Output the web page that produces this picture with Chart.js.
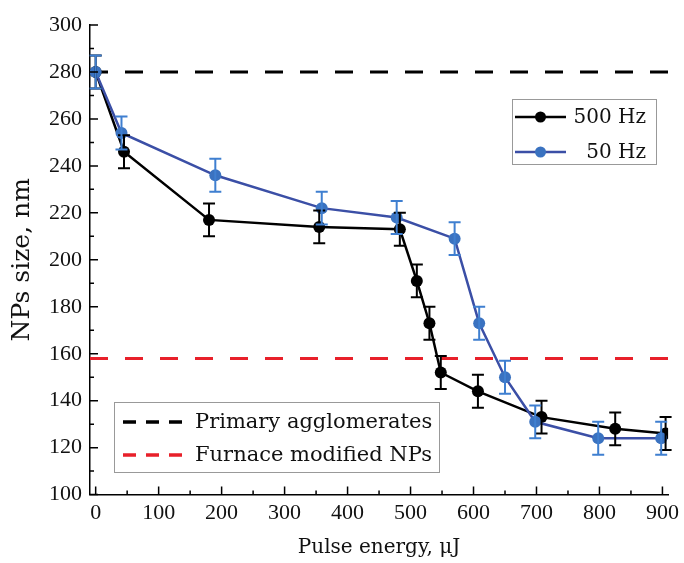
<!DOCTYPE html>
<html lang="en">
<head>
<meta charset="UTF-8">
<title>NPs size vs pulse energy</title>
<script src="https://cdn.jsdelivr.net/npm/chart.js"></script>
<style>
    body { margin: 0; background: #fff; }
    #box { width: 684px; height: 563px; }
</style>
</head>
<body>
<div id="box"><canvas id="grafico"></canvas></div>

<script>
    // data
    var energy500 = [0, 45, 180, 355, 483, 510, 530, 548, 607, 708, 825, 905];
    var size500 = [280, 246, 217, 214, 213, 191, 173, 152, 144, 133, 128, 126];
    var err500 = [7, 7, 7, 7, 7, 7, 7, 7, 7, 7, 7, 7];

    var energy50 = [0, 41, 190, 359, 478, 570, 609, 650, 698, 798, 898];
    var size50 = [280, 254, 236, 222, 218, 209, 173, 150, 131, 124, 124];
    var err50 = [7, 7, 7, 7, 7, 7, 7, 7, 7, 7, 7];

    var primaryLevel = 280;
    var furnaceLevel = 158;

    var xTicks = [0, 100, 200, 300, 400, 500, 600, 700, 800, 900];
    var yTicks = [100, 120, 140, 160, 180, 200, 220, 240, 260, 280, 300];

    var xMin = -9, xMax = 909;

    var serif = "'Liberation Serif', serif";
    var serifText = "'DejaVu Serif', serif";

    function pares(xs, ys) {
        var out = [];
        for (var i = 0; i < xs.length; i++) out.push({ x: xs[i], y: ys[i] });
        return out;
    }

    function drawErrors(ctx, sx, sy, xv, yv, ev, color) {
        ctx.save();
        ctx.strokeStyle = color;
        ctx.lineWidth = 2;
        for (var i = 0; i < xv.length; i++) {
            var px = sx.getPixelForValue(xv[i]);
            var top = sy.getPixelForValue(yv[i] + ev[i]);
            var bot = sy.getPixelForValue(yv[i] - ev[i]);
            ctx.beginPath();
            ctx.moveTo(px, top); ctx.lineTo(px, bot);
            ctx.moveTo(px - 6, top); ctx.lineTo(px + 6, top);
            ctx.moveTo(px - 6, bot); ctx.lineTo(px + 6, bot);
            ctx.stroke();
        }
        ctx.restore();
    }

    var extras = {
        id: 'extras',
        afterDatasetsDraw: function (chart) {
            var ctx = chart.ctx, sx = chart.scales.x, sy = chart.scales.y;
            drawErrors(ctx, sx, sy, energy500, size500, err500, '#000');
            drawErrors(ctx, sx, sy, energy50, size50, err50, '#3f7fd0');
        },
        afterDraw: function (chart) {
            var ctx = chart.ctx, sx = chart.scales.x, sy = chart.scales.y;
            var a = chart.chartArea;
            ctx.save();
            ctx.strokeStyle = '#000';
            ctx.lineWidth = 1.5;
            ctx.beginPath();
            // ticks point inward, minor ones halfway
            for (var i = 0; i < xTicks.length; i++) {
                var px = sx.getPixelForValue(xTicks[i]);
                ctx.moveTo(px, a.bottom); ctx.lineTo(px, a.bottom - 8);
                if (i < xTicks.length - 1) {
                    var mx = sx.getPixelForValue((xTicks[i] + xTicks[i + 1]) / 2);
                    ctx.moveTo(mx, a.bottom); ctx.lineTo(mx, a.bottom - 4);
                }
            }
            for (var j = 0; j < yTicks.length; j++) {
                var py = sy.getPixelForValue(yTicks[j]);
                ctx.moveTo(a.left, py); ctx.lineTo(a.left + 8, py);
                if (j < yTicks.length - 1) {
                    var my = sy.getPixelForValue((yTicks[j] + yTicks[j + 1]) / 2);
                    ctx.moveTo(a.left, my); ctx.lineTo(a.left + 4, my);
                }
            }
            ctx.stroke();

            // legend: series
            ctx.strokeStyle = '#999';
            ctx.lineWidth = 1;
            ctx.strokeRect(512.5, 99.5, 144, 65);
            var filas = [
                { y: 117, line: '#000', dot: '#000', text: '500 Hz' },
                { y: 152, line: '#3b4fa6', dot: '#3a72c0', text: '50 Hz' }
            ];
            ctx.font = "20px " + serifText;
            ctx.textBaseline = 'middle';
            ctx.textAlign = 'right';
            filas.forEach(function (f) {
                ctx.strokeStyle = f.line;
                ctx.lineWidth = 2.5;
                ctx.beginPath();
                ctx.moveTo(515, f.y); ctx.lineTo(566, f.y);
                ctx.stroke();
                ctx.fillStyle = f.dot;
                ctx.beginPath();
                ctx.arc(540.5, f.y, 5.5, 0, Math.PI * 2);
                ctx.fill();
                ctx.fillStyle = '#111';
                ctx.fillText(f.text, 646, f.y + 1);
            });

            // legend: reference levels
            ctx.fillStyle = '#fff';
            ctx.fillRect(114, 402, 326, 71);
            ctx.strokeStyle = '#999';
            ctx.lineWidth = 1;
            ctx.strokeRect(114.5, 402.5, 325, 70);
            var niveles = [
                { y: 422, color: '#000', text: 'Primary agglomerates' },
                { y: 455, color: '#e8202a', text: 'Furnace modified NPs' }
            ];
            ctx.font = "21px " + serifText;
            ctx.textAlign = 'left';
            niveles.forEach(function (n) {
                ctx.strokeStyle = n.color;
                ctx.lineWidth = 3.5;
                ctx.setLineDash([13, 10]);
                ctx.beginPath();
                ctx.moveTo(123, n.y); ctx.lineTo(184, n.y);
                ctx.stroke();
                ctx.setLineDash([]);
                ctx.fillStyle = '#111';
                ctx.fillText(n.text, 195, n.y + 1);
            });
            ctx.restore();
        }
    };

    var config = {
        type: 'scatter',
        data: {
            datasets: [
                {
                    label: 'Primary agglomerates',
                    data: [{ x: xMin, y: primaryLevel }, { x: xMax, y: primaryLevel }],
                    showLine: true,
                    borderColor: '#000',
                    borderWidth: 3,
                    borderDash: [18, 17],
                    pointRadius: 0,
                    order: 4
                },
                {
                    label: 'Furnace modified NPs',
                    data: [{ x: xMin, y: furnaceLevel }, { x: xMax, y: furnaceLevel }],
                    showLine: true,
                    borderColor: '#e8202a',
                    borderWidth: 3,
                    borderDash: [18, 17],
                    pointRadius: 0,
                    order: 3
                },
                {
                    label: '500 Hz',
                    data: pares(energy500, size500),
                    showLine: true,
                    borderColor: '#000',
                    borderWidth: 2.5,
                    backgroundColor: '#000',
                    pointRadius: 6,
                    pointBorderWidth: 0,
                    order: 2
                },
                {
                    label: '50 Hz',
                    data: pares(energy50, size50),
                    showLine: true,
                    borderColor: '#3b4fa6',
                    borderWidth: 2.5,
                    backgroundColor: '#3a72c0',
                    pointBackgroundColor: '#3a72c0',
                    pointRadius: 6,
                    pointBorderWidth: 0,
                    order: 1
                }
            ]
        },
        options: {
            responsive: true,
            maintainAspectRatio: false,
            animation: false,
            layout: { padding: { top: 25, right: 0, left: 3, bottom: 0 } },
            plugins: {
                legend: { display: false },
                tooltip: { enabled: false }
            },
            scales: {
                x: {
                    type: 'linear',
                    min: xMin,
                    max: xMax,
                    afterBuildTicks: function (s) {
                        s.ticks = xTicks.map(function (v) { return { value: v }; });
                    },
                    grid: { drawOnChartArea: false, drawTicks: false },
                    border: { display: true, color: '#000', width: 1.5 },
                    ticks: {
                        autoSkip: false,
                        maxRotation: 0,
                        padding: 5,
                        color: '#111',
                        font: { family: serif, size: 22 }
                    },
                    title: {
                        display: true,
                        text: 'Pulse energy, \u03bcJ',
                        color: '#111',
                        font: { family: serifText, size: 20 },
                        padding: { top: 5, bottom: 3 }
                    }
                },
                y: {
                    type: 'linear',
                    min: 100,
                    max: 300,
                    afterBuildTicks: function (s) {
                        s.ticks = yTicks.map(function (v) { return { value: v }; });
                    },
                    grid: { drawOnChartArea: false, drawTicks: false },
                    border: { display: true, color: '#000', width: 1.5 },
                    ticks: {
                        autoSkip: false,
                        padding: 8,
                        color: '#111',
                        font: { family: serif, size: 22 }
                    },
                    title: {
                        display: true,
                        text: 'NPs size, nm',
                        color: '#111',
                        font: { family: serifText, size: 25 },
                        padding: { top: 4, bottom: 4 }
                    }
                }
            }
        },
        plugins: [extras]
    };

    new Chart(document.getElementById('grafico'), config);
</script>
</body>
</html>
